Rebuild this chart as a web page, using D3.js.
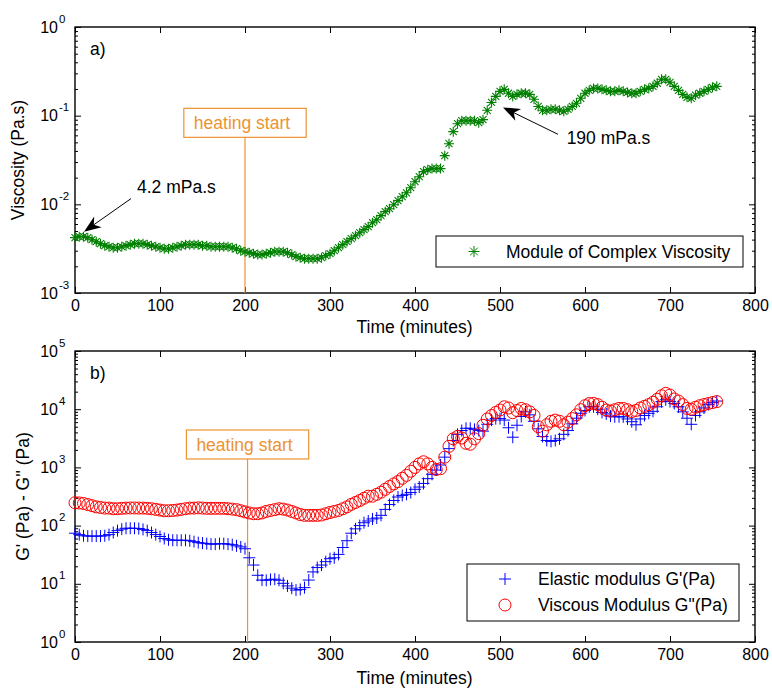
<!DOCTYPE html>
<html>
<head>
<meta charset="utf-8">
<script src="https://cdn.jsdelivr.net/npm/d3@7"></script>
<style>
  body { margin: 0; background: #fff; }
  svg { display: block; }
</style>
</head>
<body>
<svg id="chart" width="772" height="689"></svg>
<script>
// ---- data ----
const timeMin = [
  0,5,10,15,20,25,30,35,40,45,50,55,60,65,70,75,80,85,90,95,
  100,105,110,115,120,125,130,135,140,145,150,155,160,165,170,175,180,185,190,195,
  200,205,210,215,220,225,230,235,240,245,250,255,260,265,270,275,280,285,290,295,
  300,305,310,315,320,325,330,335,340,345,350,355,360,365,370,375,380,385,390,395,
  400,405,410,415,420,425,430,435,440,445,450,455,460,465,470,475,480,485,490,495,
  500,505,510,515,520,525,530,535,540,545,550,555,560,565,570,575,580,585,590,595,
  600,605,610,615,620,625,630,635,640,645,650,655,660,665,670,675,680,685,690,695,
  700,705,710,715,720,725,730,735,740,745,750,755
];

// module of complex viscosity, mPa.s
const viscosityMPas = [
  4.21,4.32,4.32,4.21,3.99,3.79,3.60,3.42,3.33,3.24,
  3.24,3.33,3.42,3.51,3.60,3.60,3.60,3.51,3.42,3.33,
  3.24,3.16,3.16,3.24,3.33,3.42,3.51,3.51,3.51,3.51,
  3.42,3.42,3.33,3.33,3.33,3.33,3.33,3.24,3.16,3.00,
  2.92,2.85,2.78,2.71,2.71,2.78,2.85,2.92,2.92,2.92,
  2.85,2.71,2.57,2.50,2.44,2.44,2.44,2.44,2.50,2.64,
  2.78,3.00,3.24,3.51,3.79,4.10,4.43,4.79,5.18,5.60,
  6.21,6.71,7.45,8.27,8.93,9.91,11.0,12.2,13.5,15.4,
  18.0,20.5,23.4,24.6,25.3,25.3,25.3,35.4,48.3,66.0,
  81.2,87.8,87.8,87.8,87.8,83.4,90.2,115,141,165,
  188,198,179,165,174,179,179,174,153,127,
  115,115,118,118,115,112,118,127,138,157,
  179,193,203,203,198,193,188,188,193,188,
  183,179,179,188,198,203,214,232,257,257,
  238,214,193,174,161,157,170,179,188,198,
  209,214
];

// elastic modulus G', Pa
const elasticG1 = [
  74,70,67,66,66,66,66,67,70,76,
  82,87,90,90,90,89,86,82,76,70,
  65,60,57,56,56,56,56,55,53,51,
  50,49,48,48,49,49,48,47,45,43,
  40,28,21,14,11.6,11.5,11.9,12,11.5,10.2,
  9.2,8.4,7.8,8.0,8.6,11.6,16,19,21,24,
  27,28,32,42,55,74,88,100,112,120,
  130,135,150,190,230,270,310,330,345,370,
  420,460,530,640,760,900,1100,1500,2100,2900,
  3700,4300,4700,4700,4500,4300,4200,5500,6500,6900,
  6900,6500,4800,3300,5300,7500,9000,8000,6200,4600,
  3400,2900,2800,2900,3100,3700,4300,5600,7000,8500,
  9500,11000,11000,10000,8800,8300,7600,7400,7400,7400,
  6800,6100,5400,6800,7800,8500,9200,11000,13500,14500,
  13500,12500,11000,9000,7000,5500,7800,9000,10500,12000,
  13000,13800
];

// viscous modulus G'', Pa
const viscousG2 = [
  247,245,240,230,220,210,205,200,200,195,
  195,198,200,201,201,200,200,198,195,190,
  185,180,180,182,185,190,195,200,200,202,
  200,198,198,198,198,198,195,192,188,180,
  172,165,160,160,165,175,182,188,195,192,
  185,175,165,155,150,150,150,150,152,160,
  168,175,182,195,210,232,250,270,295,320,
  320,345,375,420,470,520,570,650,730,860,
  1000,1150,1250,1150,1000,920,950,1500,2300,3100,
  3400,3200,2600,2500,3100,3800,5300,6800,7800,8800,
  9700,11000,10500,8700,9500,10300,9800,9000,7800,5000,
  4200,5400,6200,6500,6200,5400,6000,6900,8000,9800,
  11500,12500,12600,12000,10800,9700,9300,9800,10300,10300,
  9800,9100,9500,10500,11200,12000,13200,14800,17000,18700,
  17500,15000,13800,12000,10300,10000,10800,11500,12000,12500,
  13000,13500
];

const xTicks = [0, 100, 200, 300, 400, 500, 600, 700, 800];
const viscDecades = [-3, -2, -1, 0];
const modDecades = [0, 1, 2, 3, 4, 5];

// ---- layout ----
const FONT = '"Liberation Sans", Arial, Helvetica, sans-serif';
const ORANGE = '#EC9332';
const GREEN = '#008000';
const plotLeft = 75, plotRight = 755;

const svg = d3.select('#chart').attr('font-family', FONT);

const x = d3.scaleLinear().domain([0, 800]).range([plotLeft, plotRight]);

const minorOf = decs => {
  const out = [];
  decs.slice(0, -1).forEach(d => {
    for (let k = 2; k <= 9; k++) out.push(k * Math.pow(10, d));
  });
  return out;
};

function drawPanel(opt) {
  const { top, bottom, decades, yLabel, yLabelX, xLabelDy, tag } = opt;
  const y = d3.scaleLog()
    .domain([Math.pow(10, decades[0]), Math.pow(10, decades[decades.length - 1])])
    .range([bottom, top]);
  const g = svg.append('g');
  const majors = decades.map(d => Math.pow(10, d));
  const minors = minorOf(decades);

  const style = a => {
    a.select('.domain').remove();
    a.attr('font-family', FONT).attr('font-size', 16);
    a.selectAll('line').attr('stroke', '#000').attr('stroke-width', 1);
    a.selectAll('text').attr('fill', '#000');
  };

  // x axes (bottom with labels, top mirror)
  g.append('g').attr('transform', `translate(0,${bottom})`)
    .call(d3.axisBottom(x).tickValues(xTicks).tickSize(-6).tickSizeOuter(0).tickPadding(7).tickFormat(d3.format('d')))
    .call(style);
  g.append('g').attr('transform', `translate(0,${top})`)
    .call(d3.axisTop(x).tickValues(xTicks).tickSize(-6).tickSizeOuter(0).tickFormat(''))
    .call(style);

  // y axes, major + minor, left and right
  [[d3.axisLeft, plotLeft], [d3.axisRight, plotRight]].forEach(([ax, px]) => {
    g.append('g').attr('transform', `translate(${px},0)`)
      .call(ax(y).tickValues(majors).tickSize(-6).tickSizeOuter(0).tickFormat(''))
      .call(style);
    g.append('g').attr('transform', `translate(${px},0)`)
      .call(ax(y).tickValues(minors).tickSize(-3).tickSizeOuter(0).tickFormat(''))
      .call(style);
  });

  // decade labels 10^n
  const lab = g.append('g').attr('fill', '#000');
  decades.forEach(d => {
    const yy = y(Math.pow(10, d));
    lab.append('text').attr('x', plotLeft - 17).attr('y', yy + 5.5)
      .attr('text-anchor', 'end').attr('font-size', 16).text('10');
    lab.append('text').attr('x', plotLeft - 16).attr('y', yy - 4.5)
      .attr('font-size', 11.5).text(String(d));
  });

  // frame
  g.append('rect')
    .attr('x', plotLeft).attr('y', top)
    .attr('width', plotRight - plotLeft).attr('height', bottom - top)
    .attr('fill', 'none').attr('stroke', '#000').attr('stroke-width', 1.4);

  // axis titles
  g.append('text')
    .attr('x', (plotLeft + plotRight) / 2 - 0.5).attr('y', bottom + xLabelDy)
    .attr('text-anchor', 'middle').attr('font-size', 17.5).text('Time (minutes)');
  g.append('text')
    .attr('transform', `translate(${yLabelX},${(top + bottom) / 2}) rotate(-90)`)
    .attr('text-anchor', 'middle').attr('font-size', 17.5).text(yLabel);

  g.append('text').attr('x', plotLeft + 15).attr('y', top + 28)
    .attr('font-size', 17.5).text(tag);

  return { y, g, top, bottom };
}

function heatingMarker(p, t, midValue) {
  const cx = x(t), cy = p.y(midValue);
  const grp = p.g.append('g');
  const txt = grp.append('text')
    .attr('x', cx - 3).attr('y', cy + 6)
    .attr('text-anchor', 'middle').attr('font-size', 17.5)
    .attr('fill', ORANGE).text('heating start');
  const w = txt.node().getComputedTextLength() + 26, h = 29;
  grp.insert('rect', 'text')
    .attr('x', cx - w / 2).attr('y', cy - h / 2)
    .attr('width', w).attr('height', h)
    .attr('fill', '#fff').attr('stroke', ORANGE).attr('stroke-width', 1.2);
  grp.append('line')
    .attr('x1', cx).attr('x2', cx)
    .attr('y1', cy + h / 2).attr('y2', p.bottom)
    .attr('stroke', ORANGE).attr('stroke-width', 1.2);
}

function arrow(p, from, to) {
  const x1 = x(from[0]), y1 = p.y(from[1]);
  const x2 = x(to[0]), y2 = p.y(to[1]);
  const ang = Math.atan2(y2 - y1, x2 - x1);
  const L = 17, W = 6.5, N = 12;
  const pt = (d, s) => [x2 - d * Math.cos(ang) - s * Math.sin(ang), y2 - d * Math.sin(ang) + s * Math.cos(ang)];
  p.g.append('line')
    .attr('x1', x1).attr('y1', y1)
    .attr('x2', pt(N, 0)[0]).attr('y2', pt(N, 0)[1])
    .attr('stroke', '#000').attr('stroke-width', 1);
  p.g.append('path')
    .attr('d', 'M' + [[x2, y2], pt(L, W), pt(N, 0), pt(L, -W)].map(q => q.join(',')).join('L') + 'Z')
    .attr('fill', '#000');
}

const star = s => `M${-s},0H${s}M0,${-s}V${s}M${-s * 0.7},${-s * 0.7}L${s * 0.7},${s * 0.7}M${-s * 0.7},${s * 0.7}L${s * 0.7},${-s * 0.7}`;
const plus = s => `M${-s},0H${s}M0,${-s}V${s}`;

// ---- panel a) viscosity ----
const pa = drawPanel({ top: 27, bottom: 293, decades: viscDecades, yLabel: 'Viscosity (Pa.s)', yLabelX: 24, xLabelDy: 40, tag: 'a)' });

heatingMarker(pa, 200, 0.083);

pa.g.append('g').selectAll('path')
  .data(timeMin.map((t, i) => [t, viscosityMPas[i] / 1000]))
  .join('path')
  .attr('transform', d => `translate(${x(d[0])},${pa.y(d[1])})`)
  .attr('d', star(5)).attr('fill', 'none').attr('stroke', GREEN).attr('stroke-width', 1.1);

arrow(pa, [65.9, 0.0116], [10.6, 0.00492]);
pa.g.append('text').attr('x', x(72.9)).attr('y', pa.y(0.01336))
  .attr('font-size', 17.5).text('4.2 mPa.s');
arrow(pa, [568.2, 0.0616], [503.5, 0.124]);
pa.g.append('text').attr('x', x(578.4)).attr('y', pa.y(0.0475))
  .attr('font-size', 17.5).text('190 mPa.s');

// legend a
const la = pa.g.append('g').attr('transform', 'translate(436,236)');
la.append('rect').attr('width', 307).attr('height', 31).attr('fill', '#fff').attr('stroke', '#000').attr('stroke-width', 1);
la.append('path').attr('transform', 'translate(38,15.5)').attr('d', star(5.5)).attr('fill', 'none').attr('stroke', GREEN);
la.append('text').attr('x', 70).attr('y', 21.5).attr('font-size', 17.5).text('Module of Complex Viscosity');

// ---- panel b) moduli ----
const pb = drawPanel({ top: 351, bottom: 642, decades: modDecades, yLabel: 'G\' (Pa) - G\'\' (Pa)', yLabelX: 29, xLabelDy: 42, tag: 'b)' });

heatingMarker(pb, 203, 2474);

pb.g.append('g').selectAll('path')
  .data(timeMin.map((t, i) => [t, elasticG1[i]]))
  .join('path')
  .attr('transform', d => `translate(${x(d[0])},${pb.y(d[1])})`)
  .attr('d', plus(6)).attr('fill', 'none').attr('stroke', '#0000ff').attr('stroke-width', 1);

pb.g.append('g').selectAll('circle')
  .data(timeMin.map((t, i) => [t, viscousG2[i]]))
  .join('circle')
  .attr('cx', d => x(d[0])).attr('cy', d => pb.y(d[1])).attr('r', 6)
  .attr('fill', 'none').attr('stroke', '#ff0000').attr('stroke-width', 1);

// legend b
const lb = pb.g.append('g').attr('transform', 'translate(467,564)');
lb.append('rect').attr('width', 272).attr('height', 57).attr('fill', '#fff').attr('stroke', '#000').attr('stroke-width', 1);
lb.append('path').attr('transform', 'translate(38,15)').attr('d', plus(6)).attr('fill', 'none').attr('stroke', '#0000ff');
lb.append('circle').attr('cx', 38).attr('cy', 41).attr('r', 6).attr('fill', 'none').attr('stroke', '#ff0000');
lb.append('text').attr('x', 71).attr('y', 21).attr('font-size', 17.5).text('Elastic modulus G\'(Pa)');
lb.append('text').attr('x', 71).attr('y', 47).attr('font-size', 17.5).text('Viscous Modulus G"(Pa)');
</script>
</body>
</html>
